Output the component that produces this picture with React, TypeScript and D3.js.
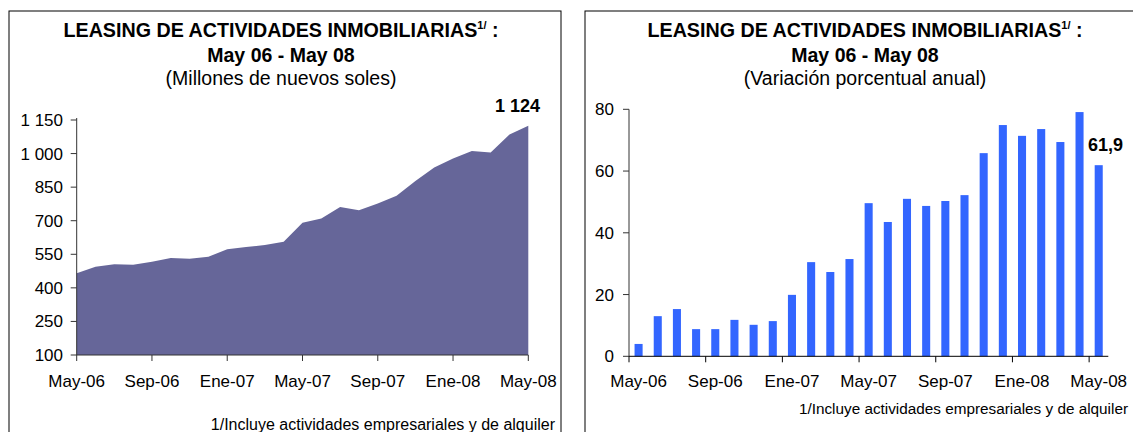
import React from 'react';
import * as d3 from 'd3';

// months May-06 .. May-08
const months = [
  'May-06', 'Jun-06', 'Jul-06', 'Ago-06', 'Sep-06', 'Oct-06', 'Nov-06', 'Dic-06',
  'Ene-07', 'Feb-07', 'Mar-07', 'Abr-07', 'May-07', 'Jun-07', 'Jul-07', 'Ago-07',
  'Sep-07', 'Oct-07', 'Nov-07', 'Dic-07', 'Ene-08', 'Feb-08', 'Mar-08', 'Abr-08', 'May-08'
];
const tickMonths = ['May-06', 'Sep-06', 'Ene-07', 'May-07', 'Sep-07', 'Ene-08', 'May-08'];

// millones de nuevos soles
const leasingStock = [
  465, 494, 506, 503, 517, 533, 530, 539, 573, 583, 591, 606, 691,
  710, 761, 747, 777, 811, 878, 938, 978, 1011, 1005, 1085, 1124
];
// variacion porcentual anual
const leasingGrowth = [
  4.0, 13.0, 15.3, 8.8, 8.8, 11.8, 10.2, 11.4, 19.9, 30.5, 27.3, 31.5, 49.6,
  43.5, 51.0, 48.7, 50.3, 52.2, 65.8, 74.9, 71.4, 73.6, 69.4, 79.1, 61.9
];
const stockTicks = [100, 250, 400, 550, 700, 850, 1000, 1150];
const growthTicks = [0, 20, 40, 60, 80];

const FONT = 'Arial, "Liberation Sans", sans-serif';
const AXIS = '#333';
const esLocale = d3.formatLocale({ decimal: ',', thousands: ' ', grouping: [3], currency: ['', ''] });
const fmtThousands = esLocale.format(',');
const fmtOneDec = esLocale.format(',.1f');

const Title = ({ cx, sub }: { cx: number; sub: string }) => (
  <g fontFamily={FONT} textAnchor="middle" fill="#000">
    <text x={cx} y={37} fontSize={19.7} fontWeight="bold">
      LEASING DE ACTIVIDADES INMOBILIARIAS
      <tspan fontSize={11} dy={-8}>1/</tspan>
      <tspan dy={8}> :</tspan>
    </text>
    <text x={cx} y={61.5} fontSize={19.5} fontWeight="bold">May 06 - May 08</text>
    <text x={cx} y={85} fontSize={19.5}>{sub}</text>
  </g>
);

const StockPanel = () => {
  const x = d3.scalePoint<string>().domain(months).range([76.7, 528.3]);
  const y = d3.scaleLinear().domain([100, 1150]).range([355, 120]);
  const area = d3.area<number>()
    .x((d, i) => x(months[i]) as number)
    .y0(y(100))
    .y1(d => y(d));
  const last = leasingStock.length - 1;

  return (
    <g>
      <rect x={9} y={11} width={552} height={440} fill="none" stroke="#000" strokeWidth={1} />
      <Title cx={281} sub="(Millones de nuevos soles)" />
      <path d={area(leasingStock) || ''} fill="#666699" />
      <line x1={x.range()[0]} x2={x.range()[0]} y1={y(1150) - 2} y2={y(100)} stroke={AXIS} />
      <line x1={x.range()[0]} x2={x.range()[1]} y1={y(100)} y2={y(100)} stroke={AXIS} />
      {stockTicks.map(t => (
        <g key={`yt-${t}`}>
          <line x1={x.range()[0] - 6} x2={x.range()[0]} y1={y(t)} y2={y(t)} stroke={AXIS} />
          <text x={63} y={y(t)} dy="0.35em" textAnchor="end" fontFamily={FONT} fontSize={17}>
            {fmtThousands(t)}
          </text>
        </g>
      ))}
      {tickMonths.map(m => (
        <g key={`xt-${m}`}>
          <line x1={x(m)} x2={x(m)} y1={y(100)} y2={y(100) + 6} stroke={AXIS} />
          <text x={x(m)} y={386.5} textAnchor="middle" fontFamily={FONT} fontSize={17}>{m}</text>
        </g>
      ))}
      <text x={540} y={111.5} textAnchor="end" fontFamily={FONT} fontSize={18} fontWeight="bold">
        {fmtThousands(leasingStock[last])}
      </text>
      <text x={555} y={430} textAnchor="end" fontFamily={FONT} fontSize={16}>
        1/Incluye actividades empresariales y de alquiler
      </text>
    </g>
  );
};

const GrowthPanel = () => {
  const x = d3.scaleBand<string>().domain(months).range([629, 1108.3]).paddingInner(0.58).paddingOuter(0.29);
  const y = d3.scaleLinear().domain([0, 80]).range([356.3, 109.3]);
  const gap = (x.step() - x.bandwidth()) / 2;
  const last = leasingGrowth.length - 1;

  return (
    <g>
      <rect x={585} y={11} width={560} height={440} fill="none" stroke="#000" strokeWidth={1} />
      <Title cx={865} sub="(Variación porcentual anual)" />
      {leasingGrowth.map((v, i) => (
        <rect key={`bar-${i}`} x={x(months[i])} y={y(v)} width={x.bandwidth()} height={y(0) - y(v)} fill="#3366FF" />
      ))}
      <line x1={x.range()[0]} x2={x.range()[0]} y1={y(80)} y2={y(0)} stroke={AXIS} />
      <line x1={x.range()[0]} x2={x.range()[1]} y1={y(0)} y2={y(0)} stroke="#000" />
      {growthTicks.map(t => (
        <g key={`yt-${t}`}>
          <line x1={x.range()[0] - 6} x2={x.range()[0]} y1={y(t)} y2={y(t)} stroke={AXIS} />
          <text x={614} y={y(t)} dy="0.35em" textAnchor="end" fontFamily={FONT} fontSize={17}>{t}</text>
        </g>
      ))}
      {tickMonths.map(m => {
        const tx = (x(m) as number) - gap;
        return (
          <g key={`xt-${m}`}>
            <line x1={tx} x2={tx} y1={y(0)} y2={y(0) + 6} stroke="#000" />
            <text x={(x(m) as number) + x.bandwidth() / 2} y={386.5} textAnchor="middle" fontFamily={FONT} fontSize={17}>{m}</text>
          </g>
        );
      })}
      <text x={1123} y={150.5} textAnchor="end" fontFamily={FONT} fontSize={18} fontWeight="bold">
        {fmtOneDec(leasingGrowth[last])}
      </text>
      <text x={1128} y={414} textAnchor="end" fontFamily={FONT} fontSize={15.3}>
        1/Incluye actividades empresariales y de alquiler
      </text>
    </g>
  );
};

const App = () => (
  <svg width={1133} height={432} style={{ position: 'absolute', left: 0, top: 0, background: '#fff' }}>
    <StockPanel />
    <GrowthPanel />
  </svg>
);

export default App;
